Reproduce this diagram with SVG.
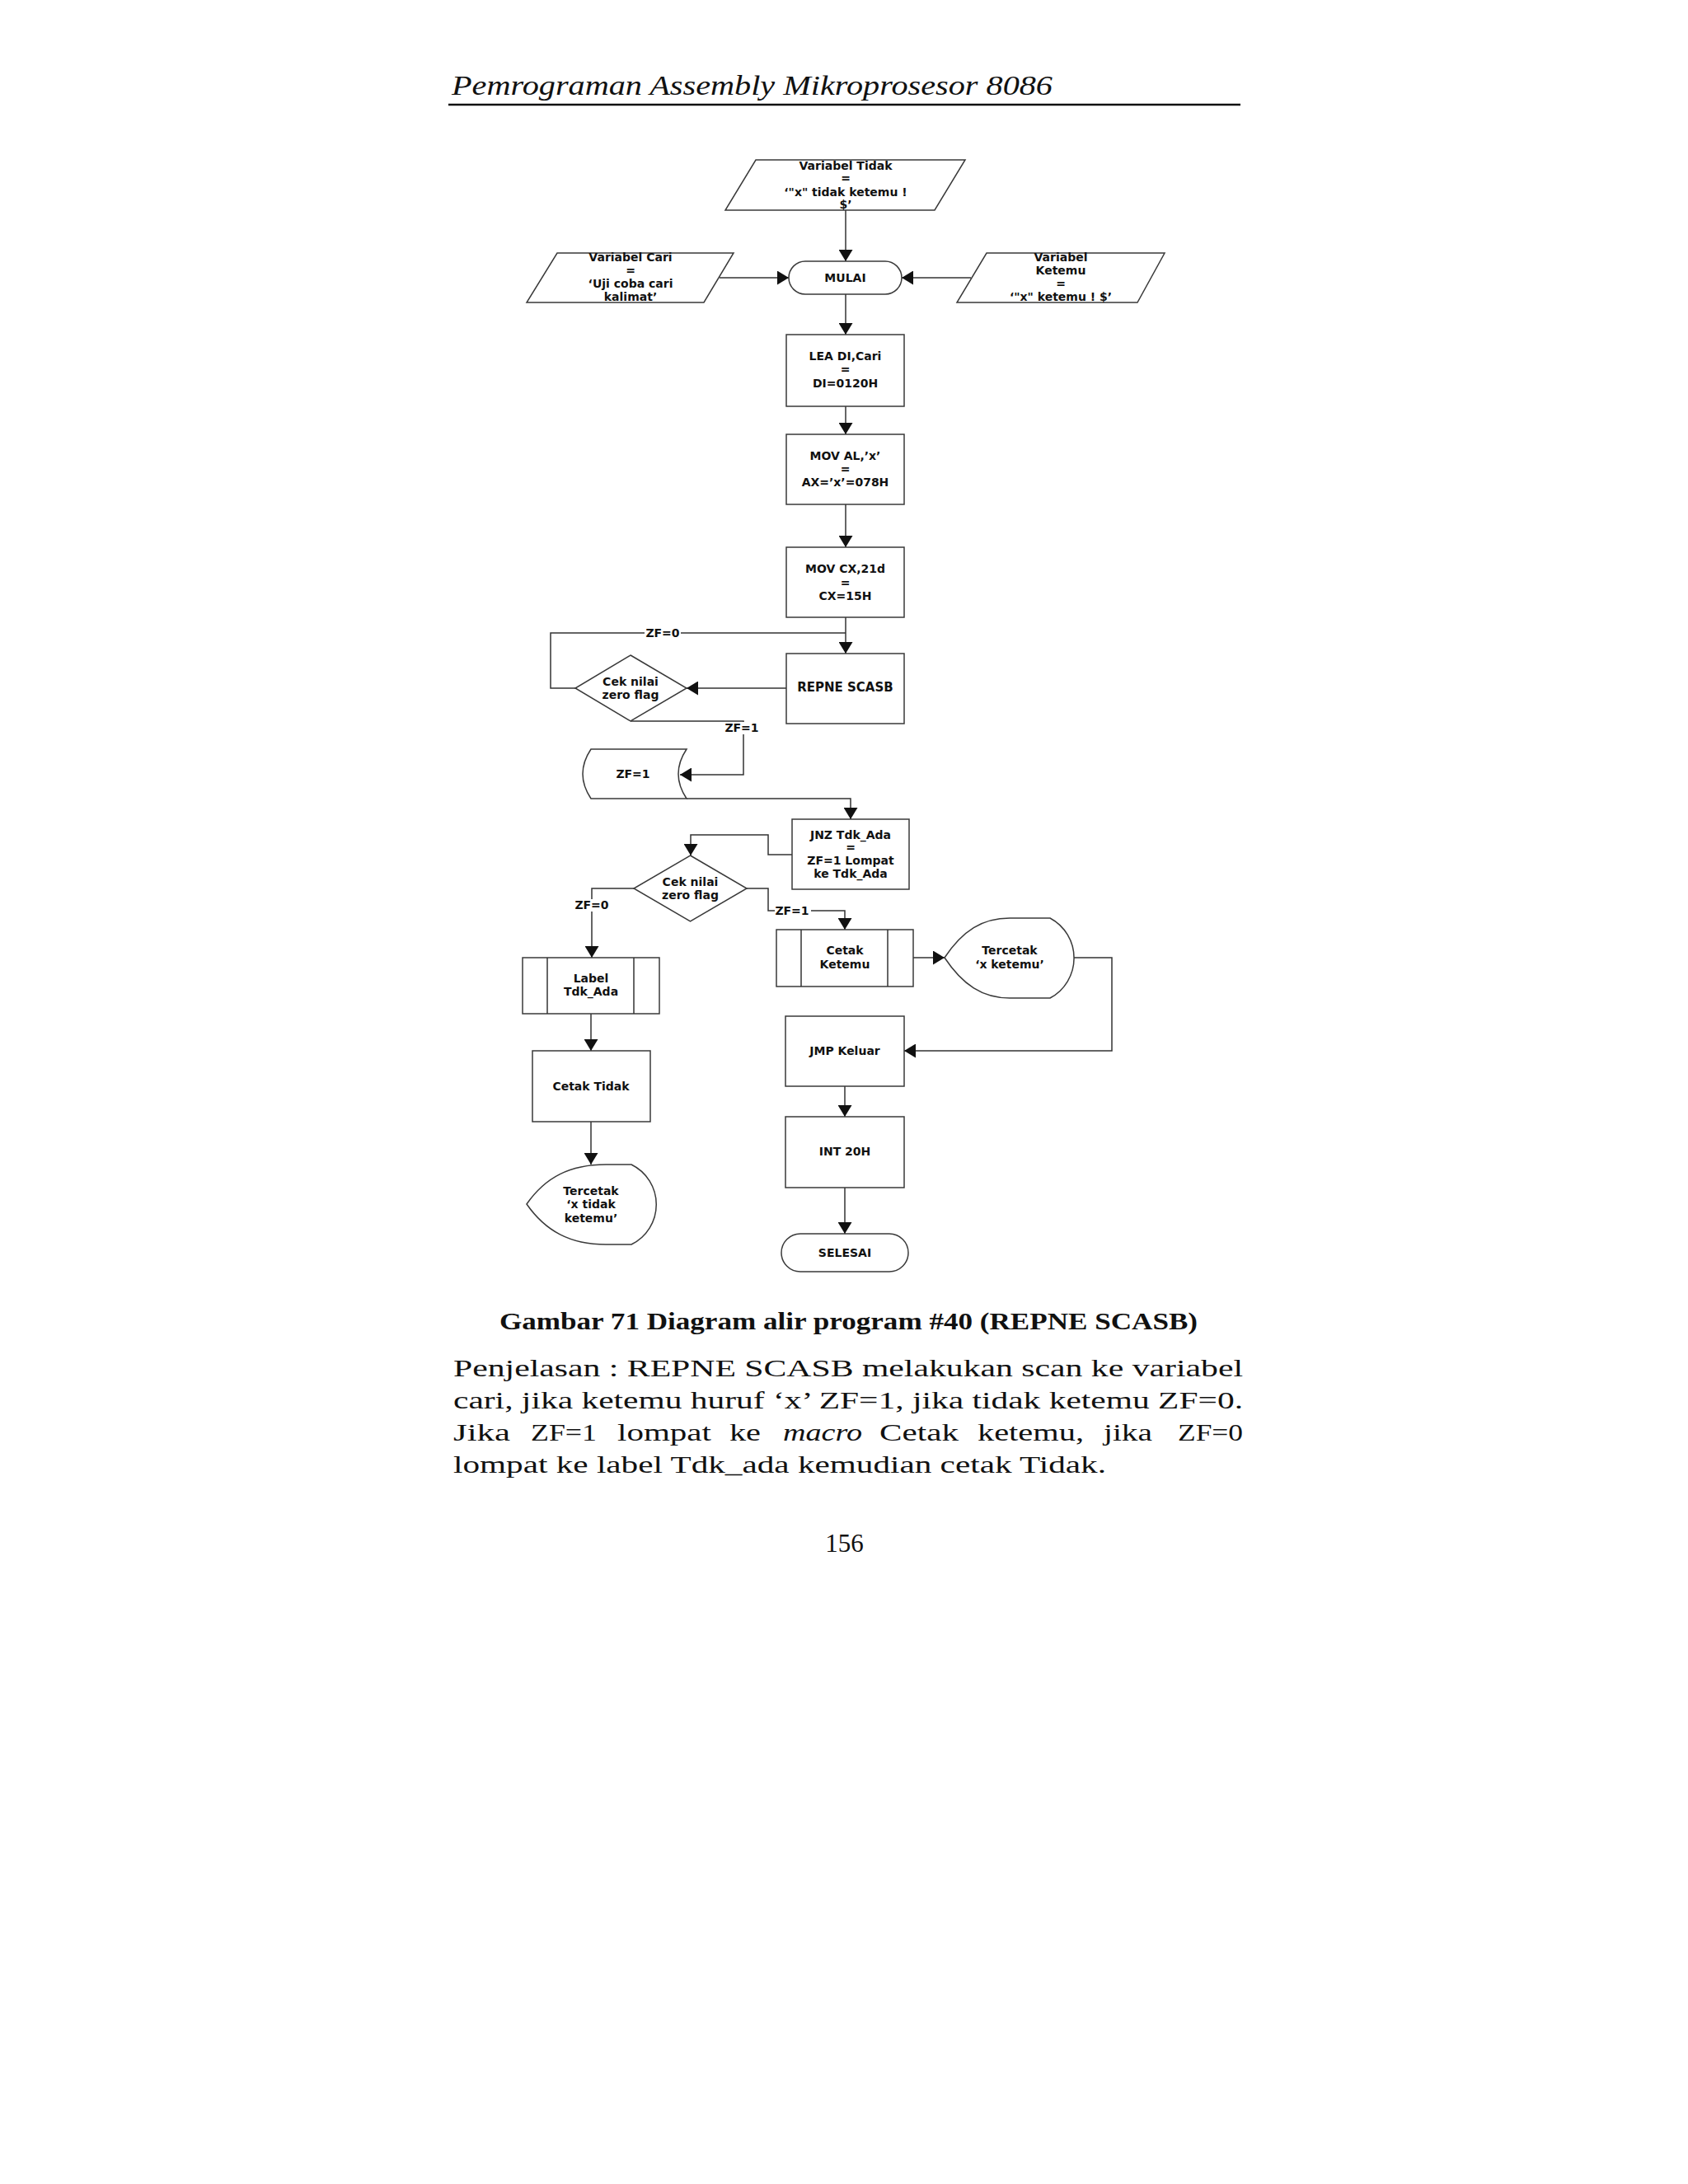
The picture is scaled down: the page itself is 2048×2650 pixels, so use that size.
<svg xmlns="http://www.w3.org/2000/svg" width="2048" height="2650" viewBox="0 0 2048 2650">
<style>
.t{font-family:"DejaVu Sans",Verdana,sans-serif;font-weight:bold;font-size:14px;text-anchor:middle;dominant-baseline:central;fill:#111}
.n{fill:#fff;stroke:#3a3a3a;stroke-width:1.5}
.c{fill:none;stroke:#333;stroke-width:1.5;marker-end:url(#arr)}
.c0{fill:none;stroke:#333;stroke-width:1.5}
.lb{fill:#fff;stroke:none}
.pg{font-family:"Liberation Serif","Times New Roman",serif;fill:#111}
</style>
<defs>
<marker id="arr" markerUnits="userSpaceOnUse" markerWidth="14" markerHeight="17" refX="14" refY="8.5" orient="auto">
<path d="M0,0 L14,8.5 L0,17 Z" fill="#111"/>
</marker>
</defs>
<rect width="2048" height="2650" fill="#fff"/>

<g id="header">
<text class="pg" x="548" y="115" font-size="34" font-style="italic" textLength="729" lengthAdjust="spacingAndGlyphs">Pemrograman Assembly Mikroprosesor 8086</text>
<line x1="544" y1="127" x2="1505" y2="127" stroke="#111" stroke-width="2.5"/>
</g>

<g id="connectors">
<path class="c" d="M1026,255 V317"/>
<path class="c" d="M873,337 H957"/>
<path class="c" d="M1178,337 H1094"/>
<path class="c" d="M1026,357 V406"/>
<path class="c" d="M1026,493 V527"/>
<path class="c" d="M1026,612 V664"/>
<path class="c" d="M1026,749 V793"/>
<path class="c" d="M954,835 H833"/>
<path class="c0" d="M698,835 H668 V768 H1026"/>
<path class="c" d="M765,875 H902 V940 H825"/>
<path class="c" d="M833,969 H1032 V994"/>
<path class="c" d="M961,1037 H932 V1013 H838 V1038"/>
<path class="c" d="M769,1078 H718 V1162"/>
<path class="c" d="M906,1078 H932 V1105 H1025 V1128"/>
<path class="c" d="M717,1230 V1275"/>
<path class="c" d="M717,1361 V1413"/>
<path class="c" d="M1108,1162 H1146"/>
<path class="c" d="M1303,1162 H1349 V1275 H1097"/>
<path class="c" d="M1025,1318 V1355"/>
<path class="c" d="M1025,1441 V1497"/>
<rect class="lb" x="782" y="761" width="44" height="15"/>
<text class="t" x="804" y="768">ZF=0</text>
<rect class="lb" x="879" y="876" width="44" height="15"/>
<text class="t" x="900" y="883">ZF=1</text>
<rect class="lb" x="696" y="1091" width="44" height="15"/>
<text class="t" x="718" y="1098">ZF=0</text>
<rect class="lb" x="940" y="1098" width="44" height="15"/>
<text class="t" x="961" y="1105">ZF=1</text>
</g>

<g id="vTidak">
<polygon class="n" points="917,194 1171,194 1134,255 880,255"/>
<text class="t" x="1026" y="201">Variabel Tidak</text>
<text class="t" x="1026" y="216">=</text>
<text class="t" x="1026" y="233">‘"x" tidak ketemu !</text>
<text class="t" x="1026" y="248">$’</text>
</g>

<g id="vCari">
<polygon class="n" points="676,307 890,307 854,367 639,367"/>
<text class="t" x="765" y="312">Variabel Cari</text>
<text class="t" x="765" y="328">=</text>
<text class="t" x="765" y="344">‘Uji coba cari</text>
<text class="t" x="765" y="360">kalimat’</text>
</g>

<g id="vKetemu">
<polygon class="n" points="1197,307 1413,307 1380,367 1161,367"/>
<text class="t" x="1287" y="312">Variabel</text>
<text class="t" x="1287" y="328">Ketemu</text>
<text class="t" x="1287" y="344">=</text>
<text class="t" x="1287" y="360">‘"x" ketemu ! $’</text>
</g>

<g id="mulai">
<rect class="n" x="957" y="317" width="137" height="40" rx="20"/>
<text class="t" x="1025.5" y="337">MULAI</text>
</g>

<g id="lea">
<rect class="n" x="954" y="406" width="143" height="87"/>
<text class="t" x="1025.5" y="432">LEA DI,Cari</text>
<text class="t" x="1025.5" y="448">=</text>
<text class="t" x="1025.5" y="465">DI=0120H</text>
</g>

<g id="moval">
<rect class="n" x="954" y="527" width="143" height="85"/>
<text class="t" x="1025.5" y="553">MOV AL,’x’</text>
<text class="t" x="1025.5" y="569">=</text>
<text class="t" x="1025.5" y="585">AX=’x’=078H</text>
</g>

<g id="movcx">
<rect class="n" x="954" y="664" width="143" height="85"/>
<text class="t" x="1025.5" y="690">MOV CX,21d</text>
<text class="t" x="1025.5" y="707">=</text>
<text class="t" x="1025.5" y="723">CX=15H</text>
</g>

<g id="repne">
<rect class="n" x="954" y="793" width="143" height="85"/>
<text class="t" x="1025.5" y="834" style="font-size:15px">REPNE SCASB</text>
</g>

<g id="cek1">
<polygon class="n" points="765,795 833,835 765,875 698,835"/>
<text class="t" x="765" y="827">Cek nilai</text>
<text class="t" x="765" y="843">zero flag</text>
</g>

<g id="zf1">
<path class="n" d="M717,909 H833 Q813,939 833,969 H717 Q697,939 717,909 Z"/>
<text class="t" x="768" y="939">ZF=1</text>
</g>

<g id="jnz">
<rect class="n" x="961" y="994" width="142" height="85"/>
<text class="t" x="1032" y="1013">JNZ Tdk_Ada</text>
<text class="t" x="1032" y="1028">=</text>
<text class="t" x="1032" y="1044">ZF=1 Lompat</text>
<text class="t" x="1032" y="1060">ke Tdk_Ada</text>
</g>

<g id="cek2">
<polygon class="n" points="837.5,1038 906,1078 837.5,1118 769,1078"/>
<text class="t" x="837.5" y="1070">Cek nilai</text>
<text class="t" x="837.5" y="1086">zero flag</text>
</g>

<g id="labelTdk">
<rect class="n" x="634" y="1162" width="166" height="68"/>
<line class="c0" x1="664" y1="1162" x2="664" y2="1230"/>
<line class="c0" x1="769" y1="1162" x2="769" y2="1230"/>
<text class="t" x="717" y="1187">Label</text>
<text class="t" x="717" y="1203">Tdk_Ada</text>
</g>

<g id="cetakTidak">
<rect class="n" x="646" y="1275" width="143" height="86"/>
<text class="t" x="717" y="1318">Cetak Tidak</text>
</g>

<g id="tercetakTidak">
<path class="n" d="M639,1461 C662,1428 692,1413 735,1413 H766 A54 54 0 0 1 766,1510 H735 C692,1510 662,1494 639,1461 Z"/>
<text class="t" x="717" y="1445">Tercetak</text>
<text class="t" x="717" y="1461">‘x tidak</text>
<text class="t" x="717" y="1478">ketemu’</text>
</g>

<g id="cetakKetemu">
<rect class="n" x="942" y="1128" width="166" height="69"/>
<line class="c0" x1="972" y1="1128" x2="972" y2="1197"/>
<line class="c0" x1="1077" y1="1128" x2="1077" y2="1197"/>
<text class="t" x="1025" y="1153">Cetak</text>
<text class="t" x="1025" y="1170">Ketemu</text>
</g>

<g id="tercetakKetemu">
<path class="n" d="M1146,1162 C1168,1129 1192,1114 1225,1114 H1274 A55 55 0 0 1 1274,1211 H1225 C1192,1211 1168,1195 1146,1162 Z"/>
<text class="t" x="1225" y="1153">Tercetak</text>
<text class="t" x="1225" y="1170">‘x ketemu’</text>
</g>

<g id="jmp">
<rect class="n" x="953" y="1233" width="144" height="85"/>
<text class="t" x="1025" y="1275">JMP Keluar</text>
</g>

<g id="int20">
<rect class="n" x="953" y="1355" width="144" height="86"/>
<text class="t" x="1025" y="1397">INT 20H</text>
</g>

<g id="selesai">
<rect class="n" x="948" y="1497" width="154" height="46" rx="23"/>
<text class="t" x="1025" y="1520">SELESAI</text>
</g>

<g id="caption">
<text class="pg" x="606" y="1613" font-size="30" font-weight="bold" textLength="847" lengthAdjust="spacingAndGlyphs">Gambar 71 Diagram alir program #40 (REPNE SCASB)</text>
</g>

<g id="paragraph">
<text class="pg" x="550" y="1670" font-size="30" textLength="958" lengthAdjust="spacingAndGlyphs">Penjelasan : REPNE SCASB melakukan scan ke variabel</text>
<text class="pg" x="550" y="1709" font-size="30" textLength="958" lengthAdjust="spacingAndGlyphs">cari, jika ketemu huruf ‘x’ ZF=1, jika tidak ketemu ZF=0.</text>
<text class="pg" x="550" y="1748" font-size="30" textLength="69" lengthAdjust="spacingAndGlyphs">Jika</text>
<text class="pg" x="644" y="1748" font-size="30" textLength="80" lengthAdjust="spacingAndGlyphs">ZF=1</text>
<text class="pg" x="749" y="1748" font-size="30" textLength="114" lengthAdjust="spacingAndGlyphs">lompat</text>
<text class="pg" x="885" y="1748" font-size="30" textLength="38" lengthAdjust="spacingAndGlyphs">ke</text>
<text class="pg" x="950" y="1748" font-size="30" font-style="italic" textLength="96" lengthAdjust="spacingAndGlyphs">macro</text>
<text class="pg" x="1067" y="1748" font-size="30" textLength="96" lengthAdjust="spacingAndGlyphs">Cetak</text>
<text class="pg" x="1186" y="1748" font-size="30" textLength="129" lengthAdjust="spacingAndGlyphs">ketemu,</text>
<text class="pg" x="1339" y="1748" font-size="30" textLength="59" lengthAdjust="spacingAndGlyphs">jika</text>
<text class="pg" x="1429" y="1748" font-size="30" textLength="79" lengthAdjust="spacingAndGlyphs">ZF=0</text>
<text class="pg" x="550" y="1787" font-size="30" textLength="792" lengthAdjust="spacingAndGlyphs">lompat ke label Tdk_ada kemudian cetak Tidak.</text>
</g>

<g id="pagenum">
<text class="pg" x="1024.5" y="1883" font-size="31" text-anchor="middle">156</text>
</g>
</svg>
